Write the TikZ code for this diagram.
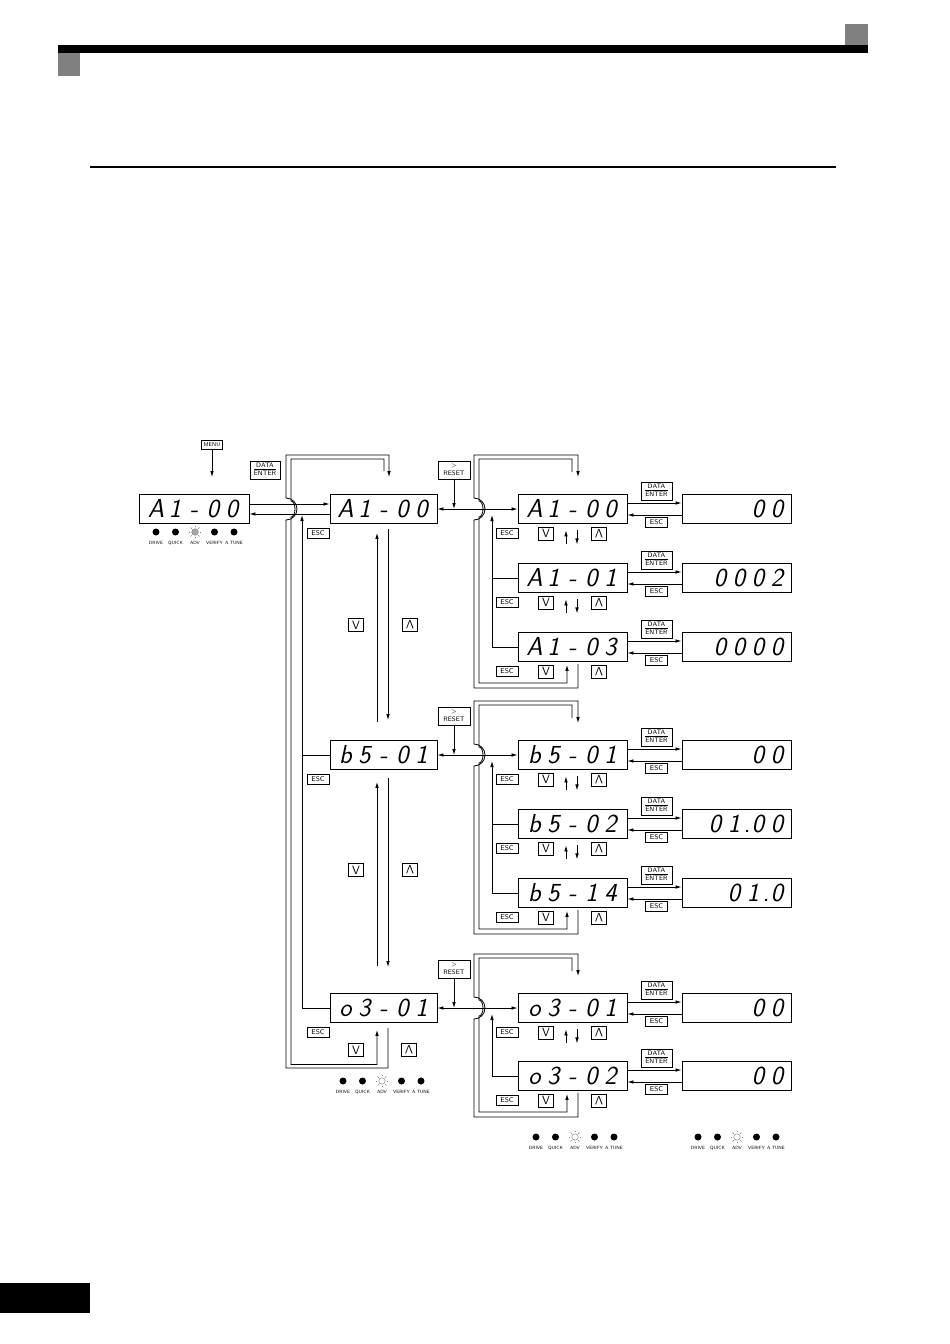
\documentclass[tikz,border=0pt]{standalone}
\usepackage{graphicx}
\usetikzlibrary{arrows.meta,positioning,calc}

\newcommand\lcdfont{\fontsize{26}{26}\selectfont\sffamily\slshape}
\makeatletter
\newcommand\lcd[1]{\edef\lcd@tmp{#1}\expandafter\lcd@loop\lcd@tmp\@nil}
\def\lcd@loop#1{\ifx#1\@nil\else\lcd@cell#1\expandafter\lcd@loop\fi}
\def\lcd@cell#1{\ifx.#1\makebox[5pt][l]{.}\else\makebox[19pt][c]{#1}\fi}
\makeatother

\begin{document}
\begin{tikzpicture}[x=1pt, y=-1pt,
    >={Latex[length=6pt,width=3.6pt]},
    lcdbox/.style={draw, line width=0.9pt, minimum width=108pt, minimum height=29pt, inner sep=0pt, font=\lcdfont},
    valbox/.style={draw, line width=0.9pt, text width=100pt, align=right, minimum height=29pt, inner xsep=4.5pt, inner ysep=0pt, font=\lcdfont},
    keybox/.style={draw, line width=0.8pt, inner xsep=1.5pt, inner ysep=1pt, minimum width=22pt, minimum height=10pt, font=\fontsize{7}{7}\selectfont\sffamily},
    twokey/.style={draw, line width=0.8pt, inner sep=1pt, align=center, minimum width=31pt, minimum height=18pt, font=\fontsize{6.5}{8}\selectfont\sffamily},
    dirkey/.style={draw, line width=0.8pt, inner sep=0pt, minimum width=15pt, minimum height=13pt, font=\fontsize{12}{12}\selectfont\sffamily},
    arr/.style={->, line width=0.8pt},
    both/.style={<->, line width=0.8pt},
    ln/.style={line width=0.8pt},
    led/.style={circle, fill=black, inner sep=0pt, minimum size=7pt},
    ledlbl/.style={font=\fontsize{4.6}{4.6}\selectfont\sffamily, inner sep=0pt}
]
\useasboundingbox (0,0) rectangle (950,1344);

% page marks
\fill (58,45) rectangle (868,53);
\fill[black!50] (845,24) rectangle (868,45);
\fill[black!50] (58,53) rectangle (80,76);
\draw[line width=1.2pt] (90,167) -- (836,167);
\fill (0,1283) rectangle (90,1313);

% left display
\node[lcdbox, minimum width=110pt] (lA) at (194,509) {\lcd{A1-00}};
\node[keybox, minimum width=21pt, minimum height=8.5pt, inner ysep=0.5pt, font=\fontsize{5.5}{5.5}\selectfont\sffamily] (menu) at (212,445) {MENU};
\draw[arr] (menu.south) -- ($(menu.south |- lA.north)+(0,-17)$);
\node[twokey, minimum width=30pt] (deL) at (265,470) {\begin{tabular}{@{}c@{}}DATA\\[-1pt]\hline ENTER\end{tabular}};

% middle column
\node[lcdbox, minimum width=107pt] (mA) at (383.5,509) {\lcd{A1-00}};
\node[lcdbox, minimum width=107pt] (mB) at (383.5,755) {\lcd{b5-01}};
\node[lcdbox, minimum width=107pt] (mC) at (383.5,1008) {\lcd{o3-01}};
\foreach \m in {mA,mB,mC}
    \node[keybox] (esc\m) at ($(\m.south)+(-65.5,9.5)$) {ESC};

\draw[arr] ([yshift=5pt]lA.east) -- ([yshift=5pt]mA.west);
\draw[arr] ([yshift=-5pt]mA.west) -- ([yshift=-5pt]lA.east);

\coordinate (escM) at (302,515);
\draw[arr] (mC.west) -| (escM);
\draw[ln] (mB.west) -- (mB.west -| escM);

\draw[arr] ([xshift=-6.5pt,yshift=18pt]mB.north) -- ([xshift=-6.5pt,yshift=-9pt]mA.south);
\draw[arr] ([xshift=4.5pt,yshift=-5pt]mA.south) -- ([xshift=4.5pt,yshift=20pt]mB.north);
\draw[arr] ([xshift=-6.5pt,yshift=27pt]mC.north) -- ([xshift=-6.5pt,yshift=-12pt]mB.south);
\draw[arr] ([xshift=4.5pt,yshift=-8pt]mB.south) -- ([xshift=4.5pt,yshift=26pt]mC.north);
\node[dirkey] (dnAB) at (356,625) {V};
\node[dirkey] (upAB) at (410,625) {\rotatebox[origin=c]{180}{V}};
\node[dirkey] (dnBC) at (356,870) {V};
\node[dirkey] (upBC) at (410,870) {\rotatebox[origin=c]{180}{V}};
\node[dirkey] (dnC) at (356,1050) {V};
\node[dirkey] (upC) at (409,1050) {\rotatebox[origin=c]{180}{V}};

% wrap round of the middle column
\draw[arr] ([xshift=4.5pt,yshift=-5pt]mC.south) -- ++(0,40) -| (286,520)
    arc[start angle=-90, end angle=90, x radius=11pt, y radius=11pt]
    -- (286,455) -| ($(mA.north)+(5.5,-17)$);
\draw[arr] ($(mA.north)+(0.5,-23)$) |- (291,459) -- (291,501)
    arc[start angle=90, end angle=-90, x radius=4pt, y radius=8pt]
    |- ($(mC.south)+(-6.5,41.5)$) -- ($(mC.south)+(-6.5,7)$);

% parameter rows
\foreach \n/\ry/\code/\val in {pA1/509/A1-00/00, pA2/578/A1-01/0002, pA3/647/A1-03/0000,
        pB1/755/b5-01/00, pB2/824/b5-02/01.00, pB3/893/b5-14/01.0,
        pC1/1008/o3-01/00, pC2/1076/o3-02/00} {
    \node[lcdbox, minimum width=109pt] (\n) at (572.5,\ry) {\lcd{\code}};
    \node[valbox] (v\n) at (736.5,\ry) {\lcd{\val}};
    \node[twokey] (de\n) at (656.5,{\ry-18}) {\begin{tabular}{@{}c@{}}DATA\\[-1pt]\hline ENTER\end{tabular}};
    \node[keybox] (ek\n) at (656.5,{\ry+13}) {ESC};
    \draw[arr] ([yshift=6pt]\n.east) -- ([yshift=6pt]v\n.west);
    \draw[arr] ([yshift=-6pt]v\n.west) -- ([yshift=-6pt]\n.east);
    \node[keybox] (esc\n) at ($(\n.south)+(-65.5,9.5)$) {ESC};
    \node[dirkey] (dn\n) at ($(\n.south)+(-26.5,9.5)$) {V};
    \node[dirkey] (up\n) at ($(\n.south)+(26.5,9.5)$) {\rotatebox[origin=c]{180}{V}};
}
\foreach \n in {pA1,pA2,pB1,pB2,pC1} {
    \draw[arr] ([xshift=-6.5pt,yshift=-20.5pt]\n.south) -- ([xshift=-6.5pt,yshift=-6.5pt]\n.south);
    \draw[arr] ([xshift=4.5pt,yshift=-6.5pt]\n.south) -- ([xshift=4.5pt,yshift=-20.5pt]\n.south);
}

% groups
\foreach \g/\ry/\last in {A/509/pA3, B/755/pB3, C/1008/pC2} {
    \node[twokey, minimum width=32pt] (rst\g) at (454,{\ry-39}) {>\\RESET};
    \draw[arr] (rst\g.south) -- (rst\g.south |- p\g1.west);
    \draw[both] (m\g.east) -- (p\g1.west);
    \coordinate (esc\g) at (492,{\ry+6});
    \draw[arr] (\last.west) -| (esc\g);
    \coordinate (lp\g) at ([xshift=-5.5pt,yshift=-21pt]\last.south);
    \draw[arr] ([xshift=5.5pt,yshift=-2pt]\last.south) -- ++(0,24) -| (474,{\ry+11})
        arc[start angle=-90, end angle=90, x radius=11pt, y radius=11pt]
        -- (474,{\ry-54}) -| ($(p\g1.north)+(5.5,-17)$);
    \draw[arr] ($(p\g1.north)+(-0.5,-22)$) |- (479,{\ry-50}) -- (479,{\ry-8})
        arc[start angle=90, end angle=-90, x radius=4pt, y radius=8pt]
        |- (lp\g) -- ([xshift=-5.5pt,yshift=-3pt]\last.south);
}
\draw[ln] (pA2.west) -- (pA2.west -| escA);
\draw[ln] (pB2.west) -- (pB2.west -| escB);

% status lamps
\foreach \lx/\ly/\advfill in {156/532/black!35, 343/1081/white, 536/1137/white, 698/1137/white} {
    \foreach \i/\lname in {0/DRIVE, 1/QUICK, 3/VERIFY, 4/A.TUNE} {
        \node[led] (led\lx\i) at ({\lx+19.5*\i},\ly) {};
        \node[ledlbl] (lbl\lx\i) at ({\lx+19.5*\i},{\ly+11}) {\lname};
    }
    \node[led, fill=\advfill, draw=black!55, line width=0.4pt, minimum size=6.5pt] (adv\lx) at ({\lx+39},\ly) {};
    \node[ledlbl] (lbl\lx2) at ({\lx+39},{\ly+11}) {ADV};
    \foreach \ang in {0,45,...,315}
        \draw[black!50, line width=0.4pt] (adv\lx.center) ++(\ang:4.6pt) -- ++(\ang:1.8pt);
}
\end{tikzpicture}
\end{document}
